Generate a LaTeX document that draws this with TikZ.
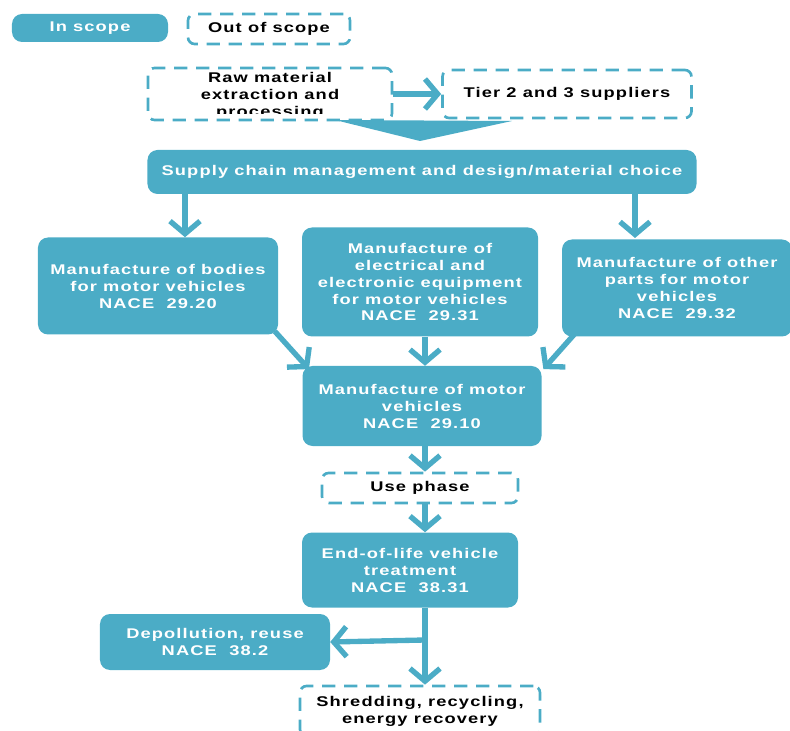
\documentclass[tikz,border=0pt]{standalone}
\usepackage{fontspec}
\setmainfont[FakeStretch=1.3,LetterSpace=8]{Liberation Sans}
\usetikzlibrary{arrows.meta}
\definecolor{aqua}{HTML}{4BACC6}
\tikzset{
    inbox/.style={rectangle, rounded corners=3mm, fill=aqua, text=white,
        font=\bfseries\fontsize{12}{14.5}\selectfont, align=center, inner sep=0pt},
    outbox/.style={rectangle, rounded corners=2mm, draw=aqua, line width=0.8mm,
        dash pattern=on 4mm off 2.6mm, text=black,
        font=\bfseries\fontsize{12}{14.5}\selectfont, align=center, inner sep=0pt},
    flow/.style={draw=aqua, line width=1.6mm, -{Straight Barb[length=3.8mm,width=9mm]}}
}
\begin{document}
\begin{tikzpicture}[x=0.3mm, y=-0.3mm]
            \useasboundingbox (0,0) rectangle (790,731);

            % legend
            \node[inbox, minimum width=46.8mm, minimum height=8.4mm] (inscope) at (90,28) {In scope};
            \node[outbox, minimum width=48.6mm, minimum height=9mm] (outscope) at (269,29) {Out of scope};

            % upstream
            \node[outbox, minimum width=73.2mm, minimum height=15.6mm] (raw) at (270,94) {};
            \begin{scope}
                \clip (raw.north west) rectangle (392,114);
                \node[outbox, draw=none] (rawtxt) at (270,96) {Raw material\\extraction and\\processing};
            \end{scope}
            \node[outbox, minimum width=74.7mm, minimum height=14.4mm] (tier) at (567,94) {Tier 2 and 3 suppliers};
            \fill[aqua] (335,120) -- (512,121) -- (420,141) -- cycle;

            \begin{scope}[every node/.style={inbox}]
                \node[minimum width=164.7mm, minimum height=13.2mm] (supply) at (422,172)
                    {Supply chain management and design/material choice};
                \node[minimum width=72mm, minimum height=29.1mm] (bodies) at (158,286)
                    {Manufacture of bodies\\for motor vehicles\\NACE\ \ 29.20};
                \node[minimum width=70.8mm, minimum height=32.7mm] (elec) at (420,282)
                    {Manufacture of\\electrical and\\electronic equipment\\for motor vehicles\\NACE\ \ 29.31};
                \node[minimum width=69mm, minimum height=29.1mm] (other) at (677,288)
                    {Manufacture of other\\parts for motor\\vehicles\\NACE\ \ 29.32};
                \node[minimum width=71.7mm, minimum height=24mm] (motor) at (422,406)
                    {Manufacture of motor\\vehicles\\NACE\ \ 29.10};
                \node[minimum width=64.8mm, minimum height=22.5mm] (eol) at (410,570)
                    {End-of-life vehicle\\treatment\\NACE\ \ 38.31};
                \node[minimum width=69mm, minimum height=16.8mm] (depol) at (215,642)
                    {Depollution, reuse\\NACE\ \ 38.2};
            \end{scope}

            \node[outbox, minimum width=58.8mm, minimum height=9mm] (use) at (420,488) {Use phase};
            \node[outbox, minimum width=72mm, minimum height=15mm] (shred) at (420,711)
                {Shredding, recycling,\\energy recovery};

            \coordinate (split) at (425,640);

            \begin{scope}
                \draw [flow] (raw.east) -- (tier.west);
                \draw [flow] (supply.south -| 185,0) -- (bodies.north -| 185,0);
                \draw [flow] (supply.south -| 635,0) -- (635,238);
                \draw [flow] ([xshift=-1mm,yshift=1mm]bodies.south east) -- ([xshift=2mm,yshift=-1mm]motor.north west);
                \draw [flow] (elec.south -| 425,0) -- (motor.north -| 425,0);
                \draw [flow] ([xshift=4mm,yshift=1mm]other.south west) -- ([xshift=0.5mm,yshift=-1mm]motor.north east);
                \draw [flow] (motor.south -| 425,0) -- (use.north -| 425,0);
                \draw [flow] (use.south -| 425,0) -- (eol.north -| 425,0);
                \draw [flow] (eol.south -| split) -- (shred.north -| split);
                \draw [flow] (split) -- (depol.east);
            \end{scope}
\end{tikzpicture}
\end{document}
